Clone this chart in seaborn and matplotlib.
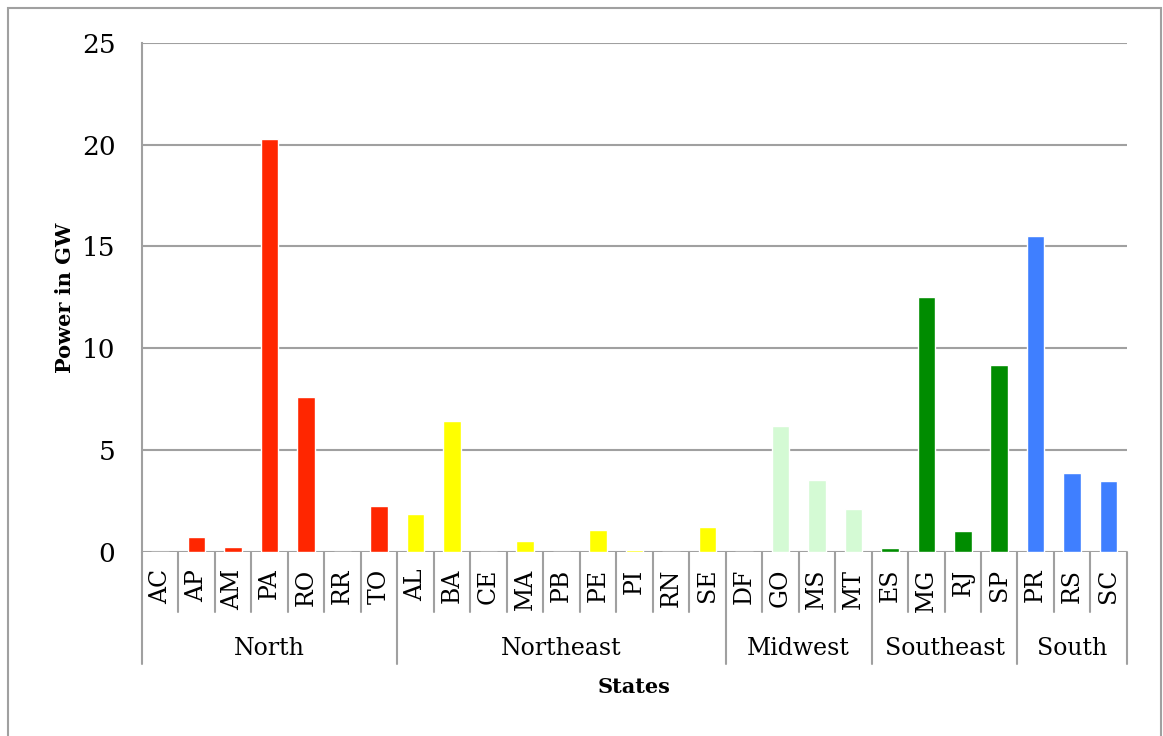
import pandas as pd
import seaborn as sns
import matplotlib.pyplot as plt
from matplotlib.patches import Rectangle
import matplotlib.transforms as mtrans

# Data
regions = ['North', 'Northeast', 'Midwest', 'Southeast', 'South']
region_states = [
    ['AC', 'AP', 'AM', 'PA', 'RO', 'RR', 'TO'],
    ['AL', 'BA', 'CE', 'MA', 'PB', 'PE', 'PI', 'RN', 'SE'],
    ['DF', 'GO', 'MS', 'MT'],
    ['ES', 'MG', 'RJ', 'SP'],
    ['PR', 'RS', 'SC'],
]
region_power = [
    [0.0, 0.75, 0.23, 20.25, 7.6, 0.0, 2.25],
    [1.85, 6.42, 0.0, 0.53, 0.0, 1.07, 0.08, 0.0, 1.21],
    [0.02, 6.17, 3.52, 2.1],
    [0.18, 12.5, 1.02, 9.2],
    [15.5, 3.86, 3.47],
]
region_colors = ['#FF2600', '#FFFF00', '#D4FAD4', '#008C00', '#3F7FFF']

rows = []
for reg, sts, vals in zip(regions, region_states, region_power):
    for s, v in zip(sts, vals):
        rows.append({'Region': reg, 'State': s, 'Power': v})
df = pd.DataFrame(rows)

sns.set_style('white')
plt.rcParams['font.family'] = ['DejaVu Serif']
plt.rcParams['text.color'] = 'black'
plt.rcParams['axes.labelcolor'] = 'black'
plt.rcParams['xtick.color'] = 'black'
plt.rcParams['ytick.color'] = 'black'

fig = plt.figure(figsize=(11.63, 7.36), dpi=100)
ax = fig.add_axes([0.122, 0.25, 0.847, 0.692])

sns.barplot(data=df, x='State', y='Power', hue='Region', hue_order=regions,
            palette=region_colors, dodge=False, width=0.48, legend=False,
            saturation=1, ax=ax, zorder=3)

grid_c = '#A0A0A0'
ax.set_ylim(0, 25)
ax.set_xlim(-0.5, len(df) - 0.5)
ax.set_yticks([0, 5, 10, 15, 20, 25])
for y in [0, 5, 10, 15, 20, 25]:
    ax.axhline(y, color=grid_c, lw=1.5, zorder=1)
for side in ['top', 'right', 'bottom']:
    ax.spines[side].set_visible(False)
ax.spines['left'].set_color(grid_c)
ax.spines['left'].set_linewidth(1.5)
ax.tick_params(axis='y', length=9, width=1.5, color=grid_c, labelcolor='black',
               labelsize=19, pad=10)
ax.tick_params(axis='x', length=0, labelcolor='black', labelsize=17,
               labelrotation=90, pad=12)
ax.set_xlabel('')
ax.set_ylabel('Power in GW', fontsize=15, fontweight='bold', color='black')
ax.yaxis.set_label_coords(-0.068, 0.5)

# category separators below the axis
trans = mtrans.blended_transform_factory(ax.transData, ax.transAxes)
group_edges = [-0.5]
for sts in region_states:
    group_edges.append(group_edges[-1] + len(sts))
for i in range(len(df) + 1):
    xpos = i - 0.5
    low = -0.22 if xpos in group_edges else -0.118
    ax.plot([xpos, xpos], [0, low], transform=trans, color=grid_c, lw=1.5, clip_on=False)

for reg, a, b in zip(regions, group_edges[:-1], group_edges[1:]):
    ax.text((a + b) / 2, -0.189, reg, transform=trans, ha='center', va='center',
            fontsize=17, color='black')

fig.text(0.545, 0.067, 'States', ha='center', va='center', fontsize=15,
         fontweight='bold', color='black')

fig.patches.append(Rectangle((0.007, -0.01), 0.991, 0.999, transform=fig.transFigure,
                             fill=False, edgecolor=grid_c, lw=1.5))

fig.savefig('out.png', dpi=100)
